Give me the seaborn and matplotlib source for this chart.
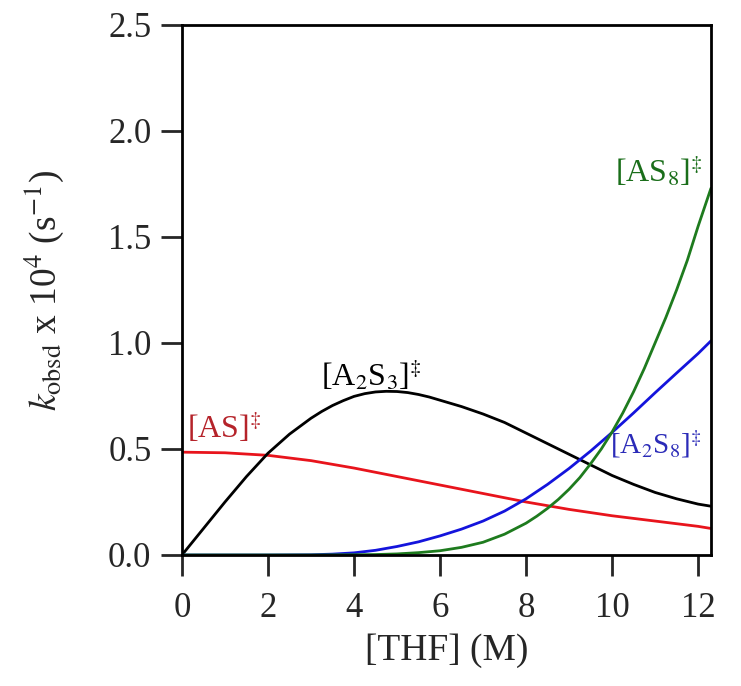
import numpy as np
import pandas as pd
import matplotlib
matplotlib.use("Agg")
import matplotlib.pyplot as plt
import seaborn as sns

sns.set_style("white")
plt.rcParams['font.family'] = ['Liberation Serif', 'DejaVu Serif']
plt.rcParams['mathtext.fontset'] = 'stix'

# values
x_as = [0, 1, 2, 3, 4, 5, 6, 7, 8, 9, 10, 11, 12, 12.3]
k_as = [0.485, 0.482, 0.47, 0.445, 0.41, 0.37, 0.33, 0.29, 0.25, 0.215, 0.185, 0.16, 0.135, 0.125]

x_a2s3 = [0, 0.5, 1, 1.5, 2, 2.5, 3, 3.25, 3.5, 3.75, 4, 4.25, 4.5, 4.75, 5, 5.25, 5.5,
          5.75, 6, 6.5, 7, 7.5, 8, 8.5, 9, 9.5, 10, 10.5, 11, 11.5, 12, 12.3]
k_a2s3 = [0, 0.125, 0.25, 0.37, 0.48, 0.57, 0.645, 0.677, 0.705, 0.728, 0.748, 0.761, 0.769,
          0.772, 0.771, 0.766, 0.757, 0.745, 0.73, 0.70, 0.665, 0.625, 0.575, 0.525, 0.475,
          0.425, 0.375, 0.333, 0.295, 0.265, 0.24, 0.23]

x_a2s8 = [0, 1, 2, 3, 3.5, 4, 4.5, 5, 5.5, 6, 6.5, 7, 7.5, 8, 8.5, 9, 9.5, 10, 10.5, 11,
          11.5, 12, 12.3]
k_a2s8 = [0, 0, 0, 0.001, 0.004, 0.01, 0.022, 0.04, 0.062, 0.09, 0.122, 0.16, 0.207, 0.265,
          0.333, 0.408, 0.49, 0.578, 0.67, 0.765, 0.858, 0.95, 1.01]

x_as8 = [0, 1, 2, 3, 4, 4.5, 5, 5.5, 6, 6.5, 7, 7.5, 8, 8.25, 8.5, 8.75, 9, 9.25, 9.5,
         9.75, 10, 10.25, 10.5, 10.75, 11, 11.25, 11.5, 11.75, 12, 12.15, 12.3]
k_as8 = [0, 0, 0, 0, 0.001, 0.002, 0.005, 0.011, 0.02, 0.036, 0.06, 0.098, 0.15, 0.183,
         0.22, 0.262, 0.31, 0.365, 0.43, 0.5, 0.58, 0.67, 0.77, 0.88, 1.0, 1.12, 1.25, 1.39,
         1.55, 1.64, 1.73]

series = [
    (x_as, k_as, "#e8141c"),
    (x_a2s3, k_a2s3, "black"),
    (x_a2s8, k_a2s8, "#1414dc"),
    (x_as8, k_as8, "#1e7b1e"),
]

fig = plt.figure(figsize=(7.41, 6.86), dpi=100)
ax = fig.add_axes([0.2456, 0.191, 0.7139, 0.7726])

for xs, ys, col in series:
    sns.lineplot(x=xs, y=ys, color=col, linewidth=2, ax=ax)

ax.set_xlim(0, 12.3)
ax.set_ylim(0, 2.5)
ax.set_xticks([0, 2, 4, 6, 8, 10, 12])
ax.set_yticks([0.0, 0.5, 1.0, 1.5, 2.0, 2.5])
ax.set_yticklabels(["0.0", "0.5", "1.0", "1.5", "2.0", "2.5"])

for s in ax.spines.values():
    s.set_linewidth(2)
    s.set_color("black")
ax.tick_params(axis="both", which="major", direction="out", length=15, width=2,
               labelsize=25, bottom=True, left=True, top=False, right=False)
ax.tick_params(axis="x", pad=12)
ax.tick_params(axis="y", pad=7)

ax.set_xlabel("[THF] (M)", fontsize=27, labelpad=6)
ax.set_ylabel(r"$k_{\mathrm{obsd}}$ x 10$^4$ (s$^{-1}$)", fontsize=27, labelpad=30)

ax.text(0.12, 0.55, r"[AS]$^{\ddag}$", color="#b5232a", fontsize=23)
ax.text(4.4, 0.80, r"[A$_2$S$_3$]$^{\ddag}$", color="black", fontsize=23, ha="center")
ax.text(12.1, 1.76, r"[AS$_8$]$^{\ddag}$", color="#1a6e1a", fontsize=23, ha="right")
ax.text(12.1, 0.48, r"[A$_2$S$_8$]$^{\ddag}$", color="#2b2bb8", fontsize=21, ha="right")

fig.savefig("out.png", dpi=100)
